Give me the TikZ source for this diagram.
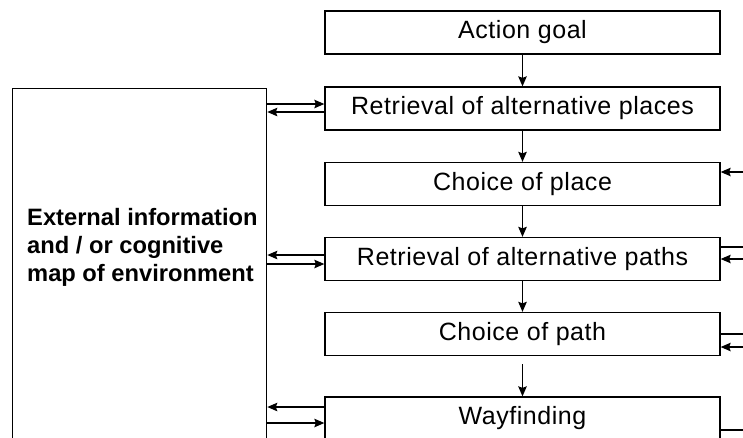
\documentclass[tikz,border=0pt]{standalone}
\usepackage{fontspec}
\setmainfont{Liberation Sans}
\newfontfamily\stagefont[LetterSpace=2.2]{Liberation Sans}
\usetikzlibrary{arrows.meta}
\begin{document}
\begin{tikzpicture}[x=1pt,y=-1pt,
  stagebox/.style={draw, line width=1.3pt, minimum width=395pt, minimum height=43pt,
    inner sep=0pt, font=\stagefont\fontsize{25}{28}\selectfont},
  flow/.style={line width=1.3pt, -{Stealth[length=10pt,width=8.5pt,inset=1.5pt]}},
  plain/.style={line width=1.3pt}]
\useasboundingbox (0,0) rectangle (743,437);
\clip (0,0) rectangle (743,437);

% process stages
\node[stagebox] (goal)    at (522.5,32.5) {Action goal};
\node[stagebox] (rplaces) at (522.5,108.5) {Retrieval of alternative places};
\node[stagebox] (cplace)  at (522.5,184) {Choice of place};
\node[stagebox] (rpaths)  at (522.5,259) {Retrieval of alternative paths};
\node[stagebox] (cpath)   at (522.5,334) {Choice of path};
\node[stagebox] (way)     at (522.5,418.5) {Wayfinding};

% knowledge source on the left
\node[draw, line width=1.3pt, minimum width=254pt, minimum height=400pt,
  anchor=north west, inner sep=0pt] (env) at (12,88) {};
\node[anchor=west, align=left, inner sep=0pt,
  font=\bfseries\fontsize{23.7}{28}\selectfont] (envtext) at (27,247)
  {External information\\and / or cognitive\\map of environment};

% downward flow
\draw[flow] (goal) -- (rplaces);
\draw[flow] (rplaces) -- (cplace);
\draw[flow] (cplace) -- (rpaths);
\draw[flow] (rpaths) -- (cpath);
\coordinate (cpathout) at (522.5,364);
\draw[flow] (cpathout) -- (way);

% exchanges with the knowledge source
\draw[flow] (env.east |- 0,104) -- (rplaces.west |- 0,104);
\draw[flow] (rplaces.west |- 0,112) -- (env.east |- 0,112);
\draw[flow] (rpaths.west |- 0,255) -- (env.east |- 0,255);
\draw[flow] (env.east |- 0,264) -- (rpaths.west |- 0,264);
\draw[flow] (way.west |- 0,407) -- (env.east |- 0,407);
\draw[flow] (env.east |- 0,423) -- (way.west |- 0,423);

% feedback lines on the right
\coordinate (fb1) at (743,172);
\coordinate (fb2out) at (743,247);
\coordinate (fb2in) at (743,259);
\coordinate (fb3out) at (743,334);
\coordinate (fb3in) at (743,347);
\coordinate (fb4out) at (743,430);
\draw[flow] (fb1) -- (cplace.east |- fb1);
\draw[plain] (rpaths.east |- fb2out) -- (fb2out);
\draw[flow] (fb2in) -- (rpaths.east |- fb2in);
\draw[plain] (cpath.east |- fb3out) -- (fb3out);
\draw[flow] (fb3in) -- (cpath.east |- fb3in);
\draw[plain] (way.east |- fb4out) -- (fb4out);
\end{tikzpicture}
\end{document}
